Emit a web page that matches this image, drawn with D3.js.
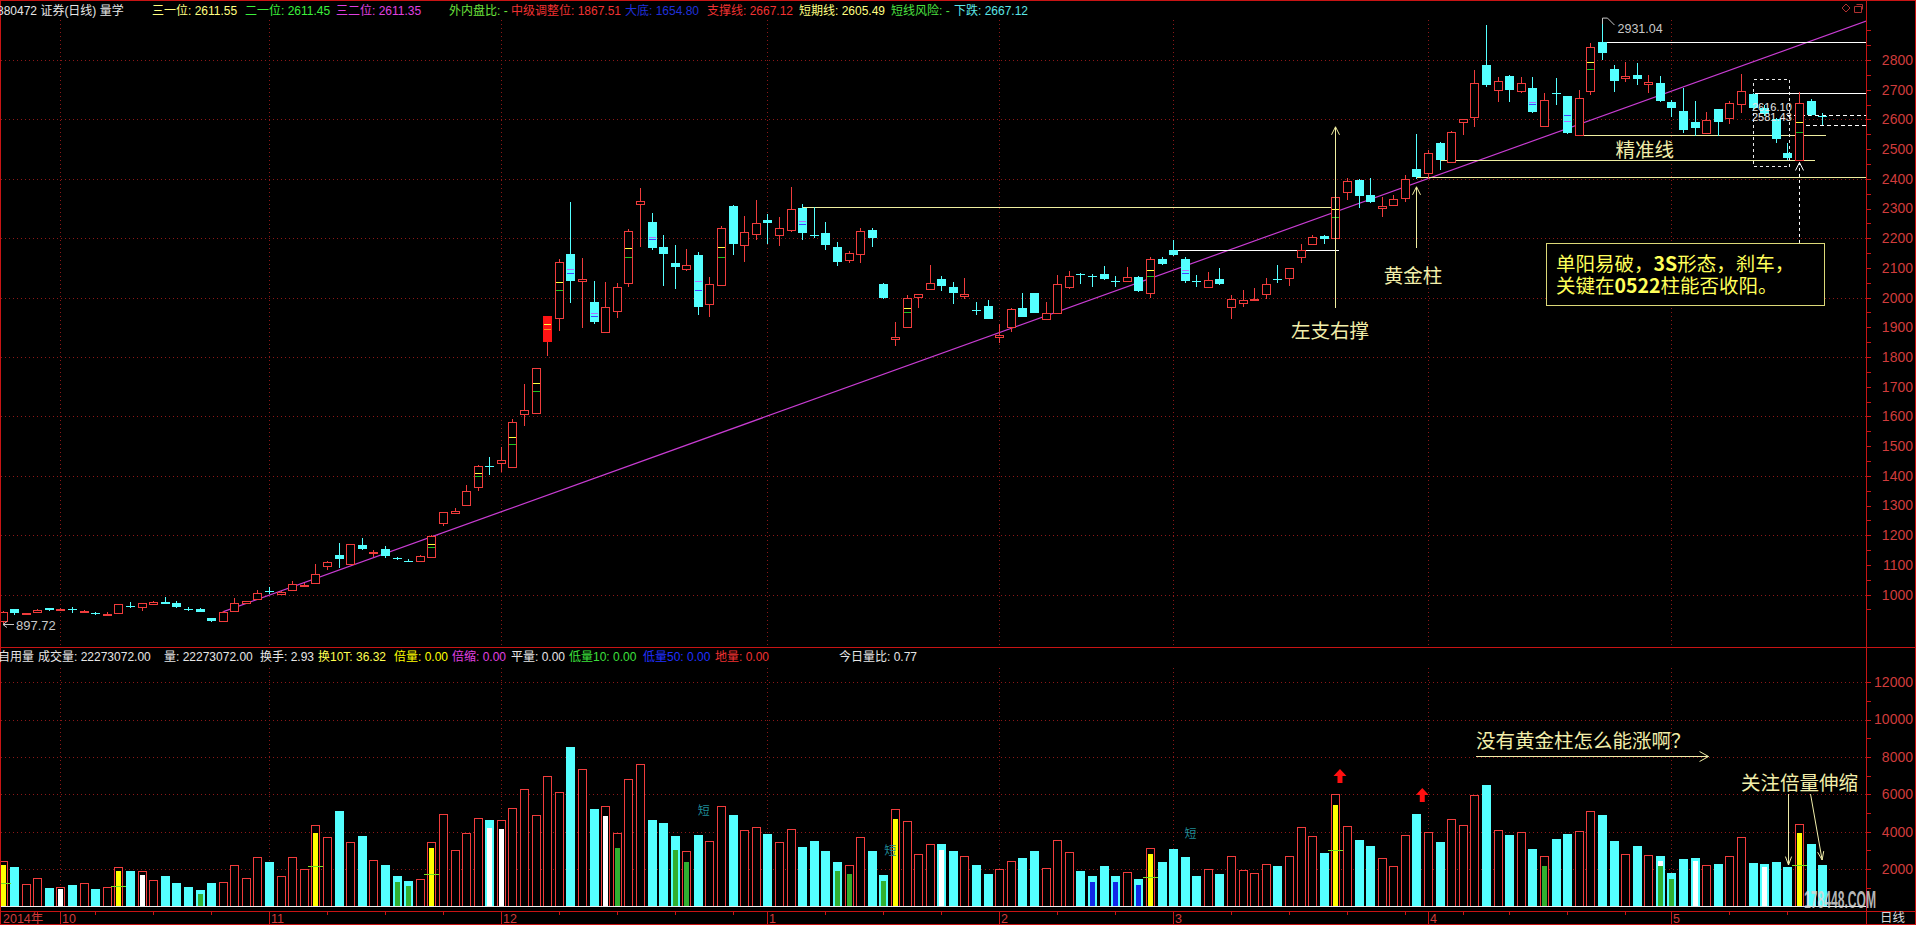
<!DOCTYPE html>
<html><head><meta charset="utf-8">
<script src="https://cdn.jsdelivr.net/npm/d3@7/dist/d3.min.js"></script>
<style>html,body{margin:0;padding:0;background:#000;overflow:hidden}svg{display:block}</style>
</head><body>
<svg id="chart" width="1916" height="925"></svg>
<script>
// ---------------- categories ----------------
const tradingMonths = [
  ["2014-09",[24,25,26,29,30]],
  ["2014-10",[8,9,10,13,14,15,16,17,20,21,22,23,24,27,28,29,30,31]],
  ["2014-11",[3,4,5,6,7,10,11,12,13,14,17,18,19,20,21,24,25,26,27,28]],
  ["2014-12",[1,2,3,4,5,8,9,10,11,12,15,16,17,18,19,22,23,24,25,26,29,30,31]],
  ["2015-01",[5,6,7,8,9,12,13,14,15,16,19,20,21,22,23,26,27,28,29,30]],
  ["2015-02",[2,3,4,5,6,9,10,11,12,13,16,17,25,26,27]],
  ["2015-03",[2,3,4,5,6,9,10,11,12,13,16,17,18,19,20,23,24,25,26,27,30,31]],
  ["2015-04",[1,2,3,7,8,9,10,13,14,15,16,17,20,21,22,23,24,27,28,29,30]],
  ["2015-05",[4,5,6,7,8,11,12,13,14,15,18,19,20,21]]
];
const dates = tradingMonths.flatMap(([m, ds]) => ds.map(d => `${m}-${String(d).padStart(2,"0")}`));
const monthLabels = [["2014-09-24","2014年"],["2014-10-08","10"],["2014-11-03","11"],["2014-12-01","12"],
  ["2015-01-05","1"],["2015-02-02","2"],["2015-03-02","3"],["2015-04-01","4"],["2015-05-04","5"]];

// ---------------- series ----------------
const open = [910,950,933,942,954,949,951,940,938,934, 937,963,957,968,976,971,952,952,920,912,
 946,971,984,1011,1002,1016,1030,1038,1097,1133, 1102,1167,1139,1153,1124,1114,1113,1128,1240,1274,
 1301,1363,1434,1444,1431,1607,1610,1855,1930,2146, 2055,1984,1885,1955,2050,2315,2255,2169,2115,2095,
 2143,1977,2042,2308,2178,2213,2261,2210,2228,2303, 2210,2216,2169,2127,2146,2228,2046,1861,1900,2001,
 2028,2063,2035,2005,1958,1972,1866,1902,1964,2014, 1927,1947,2037,2079,2072,2080,2055,2057,2070,2014,
 2130,2160,2130,2055,2037,2063,1970,1983,1993,2011, 2063,2067,2138,2180,2208,2200,2357,2396,2346,2303,
 2312,2336,2433,2418,2519,2455,2590,2607,2783,2699, 2747,2696,2707,2578,2689,2679,2547,2696,2859,2770,
 2738,2750,2718,2721,2657,2629,2590,2553,2634,2606, 2651,2684,2640,2603,2486,2463,2663,2613];
const high = [945,953,939,950,956,955,959,947,942,940, 970,976,973,977,991,977,958,954,922,944,
 987,979,1015,1027,1012,1047,1040,1103,1113,1173, 1171,1192,1150,1164,1127,1121,1132,1199,1279,1290,
 1370,1435,1464,1498,1590,1709,1764,1943,2129,2323, 2134,2057,2054,2050,2230,2368,2286,2211,2177,2162,
 2154,2068,2240,2313,2275,2327,2280,2273,2371,2314, 2306,2255,2186,2158,2233,2233,2048,1917,2009,2013,
 2110,2073,2054,2065,1984,1992,1910,1964,2014,2016, 1984,2076,2091,2082,2078,2106,2073,2104,2072,2136,
 2136,2194,2138,2076,2085,2099,2009,2026,2031,2065, 2110,2100,2179,2210,2211,2392,2402,2400,2404,2340,
 2345,2413,2550,2497,2525,2560,2600,2766,2918,2744, 2750,2744,2744,2688,2738,2680,2699,2856,2931.04,2783,
 2794,2789,2750,2746,2665,2707,2662,2624,2634,2662, 2752,2690,2648,2606,2519,2691,2668,2620];
const low = [897.72,932,930,940,946,945,939,937,932,932, 935,956,946,966,968,955,945,941,909,910,
 944,969,982,1003,1000,1012,1025,1036,1083,1091, 1100,1150,1125,1124,1116,1110,1111,1124,1230,1272,
 1299,1350,1403,1414,1428,1568,1608,1803,1889,1983, 1899,1912,1883,1930,2037,2171,2160,2039,2029,2090,
 1941,1934,2040,2143,2119,2194,2180,2174,2220,2194, 2200,2160,2108,2118,2118,2170,1996,1838,1898,1966,
 2026,2023,1977,1994,1941,1929,1848,1883,1934,1947, 1925,1945,2028,2046,2037,2060,2035,2055,2018,1998,
 2110,2140,2050,2035,2035,2044,1927,1967,1990,1994, 2048,2040,2115,2178,2180,2175,2329,2303,2320,2272,
 2308,2321,2401,2401,2430,2452,2547,2575,2710,2657, 2657,2690,2620,2575,2648,2550,2545,2682,2800,2693,
 2727,2716,2688,2660,2609,2553,2545,2550,2545,2583, 2620,2630,2612,2519,2463,2460,2610,2581];
const close = [942,937,937,948,948,951,949,945,936,936, 968,958,971,975,970,957,951,943,912,942,
 971,977,1004,1009,1010,1035,1033,1068,1111,1119, 1169,1153,1143,1131,1119,1112,1130,1197,1277,1283,
 1349,1433,1432,1453,1581,1622,1762,1941,2119,2057, 2063,1919,1968,2036,2224,2325,2168,2148,2104,2109,
 1970,2045,2233,2182,2221,2250,2252,2233,2297,2219, 2207,2178,2121,2149,2223,2202,1998,1868,1998,2011,
 2048,2040,2017,2011,1956,1929,1875,1961,1936,1949, 1949,2045,2073,2077,2070,2062,2053,2070,2022,2129,
 2113,2143,2057,2053,2059,2046,1994,1992,1995,2045, 2060,2098,2160,2205,2197,2340,2394,2343,2323,2310,
 2332,2398,2407,2488,2463,2556,2600,2721,2716,2729, 2699,2721,2626,2665,2687,2553,2673,2845,2822,2730,
 2746,2735,2725,2662,2637,2564,2572,2598,2592,2654, 2696,2637,2617,2533,2471,2654,2615,2609];
const volume = [2449,2110,1183,1504,1004,1040,1147,1236,933,1040, 2110,1896,1878,1415,1629,1254,1040,880,1254,1307,
 2217,1522,2645,2377,1629,2645,2003,4357,3715,5123, 3447,3768,2485,2217,1629,1361,1468,3447,4945,3019,
 3929,4731,4624,4624,5266,6282,4892,6978,6122,8547, 7352,5212,5373,3929,6817,7620,4624,4464,3768,2966,
 3822,3500,5373,4892,4089,4250,3875,3447,4143,3180, 3500,2966,2377,2217,3715,2966,1682,5212,4571,2805,
 3340,3340,2966,2698,2217,1735,2003,2431,2592,2966, 2056,3554,2912,1896,1629,2163,1629,1843,1468,3126,
 2377,3073,2645,1629,2003,1735,2698,1950,1789,2271, 2163,2698,4250,3768,2859,6015,4303,3554,3233,2592,
 2163,3822,4945,3982,3447,4678,4357,5961,6496,4089, 3822,3982,3073,2698,3607,3875,4036,5123,4892,3500,
 2805,3233,2752,2698,1789,2538,2592,2217,2271,2698, 3715,2324,2271,2377,2110,4410,3340,2217];
const solidRedBars = [47];
// indicator marks inside candles: [bar, price, kind]
const candleMarks = [[37,1172,"y"],[37,1161,"g"],[41,1408,"y"],[41,1399,"g"],[44,1530,"y"],[44,1506,"g"],
 [46,1711,"y"],[46,1687,"g"],[47,1910,"y"],[47,1895,"o"],[48,2054,"y"],[48,2024,"g"],[49,2095,"p"],[49,2084,"b"],
 [51,1947,"p"],[51,1939,"b"],[54,2166,"y"],[54,2137,"g"],[56,2205,"p"],[56,2197,"b"],[60,2056,"p"],[60,2026,"b"],
 [62,2169,"y"],[62,2138,"g"],[69,2259,"p"],[69,2248,"b"],[78,1964,"y"],[78,1950,"g"],[99,2093,"y"],[99,2072,"g"],
 [102,2093,"p"],[102,2084,"b"],[115,2300,"y"],[115,2270,"g"],[132,2660,"p"],[132,2651,"b"],[135,2615,"b"],[135,2595,"p"],
 [137,2794,"y"],[137,2770,"g"],[155,2590,"y"],[155,2556,"g"]];
// volume inner fills: [bar, value]
const volWhite = [[5,933],[12,1682],[42,4196],[43,4160],[52,4838],[81,3019],[143,2430],[146,2450],[152,2100]];
const volYellow = [[0,2217],[10,1896],[27,3947],[37,3126],[77,4678],[99,2805],[115,5426],[155,3929]];
const volGreen = [[17,684],[34,1307],[35,1094],[53,3144],[58,3019],[59,2377],[72,1896],[73,1735],[76,1361],[133,2163],[143,2163],[144,1468]];
const volBlue = [[94,1307],[96,1307],[98,1165]];
const volTickMarks = [[0,1236],[10,1094],[27,2163],[37,1735],[99,1575],[115,3019],[155,2217]];

// ---------------- axis ticks ----------------
const priceTicks = [1000,1100,1200,1300,1400,1500,1600,1700,1800,1900,2000,2100,2200,2300,2400,2500,2600,2700,2800];
const priceGrid = [1000,1200,1400,1600,1800,2000,2200,2400,2600,2800];
const volTicks = [2000,4000,6000,8000,10000,12000];

// ---------------- annotations (data units) ----------------
const trendLine = [[19,942],[160.8,2931]];
const levelLines = [ // [fromBar, toBar(null=edge), price, color, dashed]
 [69,115,2304,"#f0eea0",false],[101,115,2160,"#ffffff",false],
 [124,156,2462,"#f0eea0",false],[136,157,2547,"#f0eea0",false],[122,null,2407,"#f0eea0",false],
 [138,null,2860,"#ffffff",false],[151.2,null,2688,"#ffffff",false],
 [154,null,2616.10,"#ffffff",true],[155,null,2581.43,"#ffffff",true]];
const upArrows = [[115,1965,2575,"#f0eea0",false],[122,2167,2373,"#f0eea0",false],[155,2184,2455,"#ffffff",true]];
const priceTexts = [["左支右撑",114.54,1864],["黄金柱",121.7,2049],["精准线",141.7,2473]];
const noteBox = {x0:133.2, x1:157.2, p0:2184, p1:1975, tx:134.04,
  lines:[[["单阳易破，",0],["3S",1],["形态，刹车，",0]],[["关键在",0],["0522",1],["柱能否收阳。",0]]], base:[2091,2017]};
const dashBox = [151,154.1,2736,2443];
const volArrowsRed = [[115.4,7353],[122.5,6337]];
const shortLabels = [[60.5,5160],[76.6,3020],[102.5,3950]];
const volTexts = [["没有黄金柱怎么能涨啊？",127.14,8476],["关注倍量伸缩",150.0,6230]];
const volArrowLine = [[127.14,8048],[147.2,8048]];
const volPointers = [[[154.1,6016],[154.1,2219]],[[156.0,6016],[157.0,2487]]];

const headerItems = [[-3,"880472 证券(日线) 量学","#e6e6e6"],[152,"三一位: 2611.55","#ffff80"],[245,"二一位: 2611.45","#3cf03c"],
 [336,"三二位: 2611.35","#e040e0"],[449,"外内盘比: -","#6ce23c"],[511,"中级调整位: 1867.51","#f03232"],[625,"大底: 1654.80","#2030d8"],
 [707,"支撑线: 2667.12","#f03232"],[799,"短期线: 2605.49","#ffff80"],[891,"短线风险: -","#4ce040"],[954,"下跌: 2667.12","#5ce6e6"]];
const volHeaderItems = [[-2,"自用量","#e6e6e6"],[38,"成交量: 22273072.00","#e6e6e6"],[164,"量: 22273072.00","#e6e6e6"],
 [260,"换手: 2.93","#e6e6e6"],[318,"换10T: 36.32","#ffff50"],[394,"倍量: 0.00","#ffff00"],[452,"倍缩: 0.00","#e040e0"],
 [511,"平量: 0.00","#e6e6e6"],[569,"低量10: 0.00","#3ce03c"],[643,"低量50: 0.00","#2030ff"],[715,"地量: 0.00","#f03232"],
 [839,"今日量比: 0.77","#e6e6e6"]];

// ---------------- drawing ----------------
const W = 1916, H = 925, PR = 1866;
const RED = "#c81414", UP = "#f03c3c", DOWN = "#54ffff", AXC = "#d03c3c", GRID = "#8c1818";
const FS = '"Liberation Sans","Noto Sans CJK SC",sans-serif';
const CJK = '"Noto Sans CJK SC","Liberation Sans",sans-serif';
const N = dates.length;
const xI = d3.scaleLinear().domain([0, N - 1]).range([2.5, 2.5 + (N - 1) * 11.59]);
const yP = d3.scaleLinear().domain([1000, 2800]).range([594.6, 60]);
const yV = d3.scaleLinear().domain([0, 12000]).range([906.5, 682.1]);
const X = i => Math.round(xI(i));
const idx = d => dates.indexOf(d);
const markColor = {y:"#ffff40", g:"#20c020", p:"#b070ff", b:"#4040ff", o:"#ff9020"};

const svg = d3.select("#chart");
svg.append("rect").attr("width", W).attr("height", H).attr("fill", "#000");

const bars = dates.map((d, i) => ({i, d, o: open[i], h: high[i], l: low[i], c: close[i], v: volume[i]}));
const monthIdx = monthLabels.map(([d, t]) => [idx(d), t]);

// grids
const grid = svg.append("g").attr("stroke", GRID).attr("stroke-dasharray", "1,3").attr("shape-rendering", "crispEdges");
grid.selectAll(".hp").data(priceGrid).join("line").attr("x1", 1).attr("x2", PR)
  .attr("y1", d => Math.round(yP(d)) + 0.5).attr("y2", d => Math.round(yP(d)) + 0.5);
grid.selectAll(".hv").data(volTicks).join("line").attr("x1", 1).attr("x2", PR)
  .attr("y1", d => Math.round(yV(d)) + 0.5).attr("y2", d => Math.round(yV(d)) + 0.5);
grid.selectAll(".vp").data(monthIdx.slice(1)).join("line")
  .attr("x1", d => X(d[0]) + 0.5).attr("x2", d => X(d[0]) + 0.5).attr("y1", 20).attr("y2", 646);
grid.selectAll(".vv").data(monthIdx.slice(1)).join("line")
  .attr("x1", d => X(d[0]) + 0.5).attr("x2", d => X(d[0]) + 0.5).attr("y1", 668).attr("y2", 905);

// trend line (clipped to price panel)
svg.append("clipPath").attr("id", "pclip").append("rect").attr("x", 1).attr("y", 18).attr("width", PR - 1).attr("height", 628);
svg.append("line").attr("clip-path", "url(#pclip)")
  .attr("x1", xI(trendLine[0][0])).attr("y1", yP(trendLine[0][1]))
  .attr("x2", xI(trendLine[1][0])).attr("y2", yP(trendLine[1][1]))
  .attr("stroke", "#c83cd2").attr("stroke-width", 1.2);

// level lines
const lv = svg.append("g").attr("shape-rendering", "crispEdges");
lv.selectAll("line").data(levelLines).join("line")
  .attr("x1", d => X(d[0])).attr("x2", d => d[1] == null ? PR : X(d[1]) + 4)
  .attr("y1", d => Math.round(yP(d[2])) + 0.5).attr("y2", d => Math.round(yP(d[2])) + 0.5)
  .attr("stroke", d => d[3]).attr("stroke-dasharray", d => d[4] ? "4,3" : null);

// dashed box
svg.append("rect").attr("x", X(dashBox[0]) + 0.5).attr("y", Math.round(yP(dashBox[2])) + 0.5)
  .attr("width", X(dashBox[1]) - X(dashBox[0])).attr("height", Math.round(yP(dashBox[3]) - yP(dashBox[2])))
  .attr("fill", "none").attr("stroke", "#e8e8e8").attr("stroke-dasharray", "3,3").attr("shape-rendering", "crispEdges");

// candles
const cg = svg.append("g").attr("shape-rendering", "crispEdges");
const cs = cg.selectAll("g").data(bars).join("g");
cs.append("line").attr("x1", d => X(d.i) + 0.5).attr("x2", d => X(d.i) + 0.5)
  .attr("y1", d => yP(d.h)).attr("y2", d => yP(Math.max(d.o, d.c)))
  .attr("stroke", d => d.c >= d.o ? UP : DOWN);
cs.append("line").attr("x1", d => X(d.i) + 0.5).attr("x2", d => X(d.i) + 0.5)
  .attr("y1", d => yP(Math.min(d.o, d.c))).attr("y2", d => yP(d.l))
  .attr("stroke", d => d.c >= d.o ? UP : DOWN);
cs.append("rect")
  .attr("x", d => d.c >= d.o && !solidRedBars.includes(d.i) ? X(d.i) - 3.5 : X(d.i) - 4)
  .attr("y", d => { const t = Math.round(yP(Math.max(d.o, d.c))); return d.c >= d.o ? t + 0.5 : t; })
  .attr("width", d => d.c >= d.o && !solidRedBars.includes(d.i) ? 8 : 9)
  .attr("height", d => Math.max(1, Math.round(yP(Math.min(d.o, d.c))) - Math.round(yP(Math.max(d.o, d.c)))))
  .attr("fill", d => solidRedBars.includes(d.i) ? "#ff1414" : (d.c >= d.o ? "#000" : DOWN))
  .attr("stroke", d => (d.c >= d.o && !solidRedBars.includes(d.i)) ? UP : "none");
cg.selectAll(".mk").data(candleMarks).join("line")
  .attr("x1", d => X(d[0]) - 3).attr("x2", d => X(d[0]) + 4)
  .attr("y1", d => Math.round(yP(d[1])) + 0.5).attr("y2", d => Math.round(yP(d[1])) + 0.5)
  .attr("stroke", d => markColor[d[2]]).attr("stroke-width", 1.5);

// up arrows (price panel)
const ua = svg.append("g");
upArrows.forEach(([i, p0, p1, col, dash]) => {
  const x = X(i) + 0.5, y0 = yP(p0), y1 = yP(p1);
  ua.append("line").attr("x1", x).attr("x2", x).attr("y1", y0).attr("y2", y1)
    .attr("stroke", col).attr("stroke-dasharray", dash ? "3,3" : null);
  ua.append("path").attr("d", `M${x - 4},${y1 + 8}L${x},${y1}L${x + 4},${y1 + 8}`).attr("fill", "none").attr("stroke", col);
});

// annotation texts (price panel)
svg.selectAll(".pt").data(priceTexts).join("text")
  .attr("x", d => xI(d[1])).attr("y", d => yP(d[2])).attr("text-anchor", "middle")
  .attr("font-family", CJK).attr("font-size", 19.5).attr("fill", "#f2eeaa").text(d => d[0]);

// note box
svg.append("rect").attr("x", Math.round(xI(noteBox.x0)) + 0.5).attr("y", Math.round(yP(noteBox.p0)) + 0.5)
  .attr("width", Math.round(xI(noteBox.x1) - xI(noteBox.x0))).attr("height", Math.round(yP(noteBox.p1) - yP(noteBox.p0)))
  .attr("fill", "#000").attr("stroke", "#dcd878").attr("shape-rendering", "crispEdges");
noteBox.lines.forEach((parts, k) => {
  const t = svg.append("text").attr("x", xI(noteBox.tx)).attr("y", yP(noteBox.base[k]))
    .attr("font-family", CJK).attr("font-size", 19.5).attr("fill", "#ffff5a");
  parts.forEach(([s, b]) => t.append("tspan").attr("font-weight", b ? "bold" : null).text(s));
});

// price extreme labels
{
  const i = high.indexOf(d3.max(high)), x = X(i) + 0.5, y = yP(high[i]);
  svg.append("path").attr("d", `M${x},${y + 3}L${x},${y - 3}L${x + 5},${y - 3}L${x + 12},${y + 4}`).attr("fill", "none").attr("stroke", "#c8c8c8");
  svg.append("text").attr("x", x + 15).attr("y", y + 12).attr("font-family", FS).attr("font-size", 12.5)
    .attr("fill", "#c8c8c8").text(d3.format(".2f")(high[i]));
  const j = low.indexOf(d3.min(low)), yl = Math.round(yP(low[j])) - 0.5;
  svg.append("path").attr("d", `M3,${yl}L14,${yl}M3,${yl}L7,${yl - 3}M3,${yl}L7,${yl + 3}`).attr("fill", "none").attr("stroke", "#c8c8c8");
  svg.append("text").attr("x", 16).attr("y", yl + 5).attr("font-family", FS).attr("font-size", 13)
    .attr("fill", "#c8c8c8").text(d3.format(".2f")(low[j]));
}
// dashed level value labels
svg.selectAll(".dl").data(levelLines.filter(d => d[4])).join("text")
  .attr("x", X(151) - 1).attr("y", d => yP(d[2]) - 4).attr("font-family", FS).attr("font-size", 11)
  .attr("fill", "#e8e8e8").text(d => d3.format(".2f")(d[2]));

// volume bars
const vg = svg.append("g").attr("shape-rendering", "crispEdges");
vg.selectAll(".vb").data(bars).join("rect")
  .attr("x", d => d.c >= d.o ? X(d.i) - 3.5 : X(d.i) - 4)
  .attr("y", d => Math.round(yV(d.v)) + (d.c >= d.o ? 0.5 : 0))
  .attr("width", d => d.c >= d.o ? 8 : 9)
  .attr("height", d => 906 - Math.round(yV(d.v)) - (d.c >= d.o ? 0.5 : 0))
  .attr("fill", d => d.c >= d.o ? "#000" : DOWN)
  .attr("stroke", d => d.c >= d.o ? UP : "none");
[[volWhite, "#ffffff"], [volYellow, "#ffff00"], [volGreen, "#30b030"], [volBlue, "#1028e8"]].forEach(([arr, col]) => {
  vg.append("g").selectAll("rect").data(arr).join("rect")
    .attr("x", d => X(d[0]) - 2).attr("y", d => Math.round(yV(d[1])))
    .attr("width", 5).attr("height", d => 906 - Math.round(yV(d[1]))).attr("fill", col);
});
vg.selectAll(".vt").data(volTickMarks).join("line")
  .attr("x1", d => X(d[0]) - 7).attr("x2", d => X(d[0]) + 8)
  .attr("y1", d => Math.round(yV(d[1])) + 0.5).attr("y2", d => Math.round(yV(d[1])) + 0.5)
  .attr("stroke", "#78e020").attr("stroke-width", 1.5);

// volume annotations
svg.selectAll(".ra").data(volArrowsRed).join("path")
  .attr("d", d => { const x = xI(d[0]), y = yV(d[1]); return `M${x},${y}L${x + 6.5},${y + 7}L${x + 2.5},${y + 7}L${x + 2.5},${y + 14}L${x - 2.5},${y + 14}L${x - 2.5},${y + 7}L${x - 6.5},${y + 7}Z`; })
  .attr("fill", "#ff1010");
svg.selectAll(".sl").data(shortLabels).join("text")
  .attr("x", d => xI(d[0])).attr("y", d => yV(d[1]) + 5).attr("text-anchor", "middle")
  .attr("font-family", CJK).attr("font-size", 12).attr("fill", "#1f8a96").text("短");
svg.selectAll(".vtx").data(volTexts).join("text")
  .attr("x", d => xI(d[1])).attr("y", d => yV(d[2])).attr("font-family", CJK).attr("font-size", 19.5)
  .attr("fill", "#f2eeaa").text(d => d[0]);
{
  const [a, b] = volArrowLine, x0 = xI(a[0]), x1 = xI(b[0]), y = Math.round(yV(a[1])) + 0.5;
  svg.append("path").attr("d", `M${x0},${y}L${x1},${y}M${x1 - 9},${y - 5}L${x1},${y}L${x1 - 9},${y + 5}`)
    .attr("fill", "none").attr("stroke", "#f2eeaa");
  volPointers.forEach(([p, q]) => {
    const xa = xI(p[0]), ya = yV(p[1]), xb = xI(q[0]), yb = yV(q[1]);
    const ang = Math.atan2(yb - ya, xb - xa), L = 9, s = 0.35;
    svg.append("path").attr("d", `M${xa},${ya}L${xb},${yb}M${xb - L * Math.cos(ang - s)},${yb - L * Math.sin(ang - s)}L${xb},${yb}L${xb - L * Math.cos(ang + s)},${yb - L * Math.sin(ang + s)}`)
      .attr("fill", "none").attr("stroke", "#f2eeaa");
  });
}

// axes (right)
const axP = svg.append("g").attr("transform", `translate(${PR},0)`)
  .call(d3.axisRight(yP).tickValues(priceTicks).tickSize(0).tickPadding(0).tickFormat(d3.format("d")));
axP.select(".domain").remove();
axP.selectAll("text").attr("x", 47).attr("text-anchor", "end").attr("fill", AXC);
axP.attr("font-family", FS).attr("font-size", 14);
const minorP = d3.range(950, 2901, 50);
svg.append("g").attr("shape-rendering", "crispEdges").selectAll("line").data(minorP).join("line")
  .attr("x1", PR).attr("x2", PR + 5).attr("y1", d => Math.round(yP(d)) + 0.5).attr("y2", d => Math.round(yP(d)) + 0.5).attr("stroke", RED);

const axV = svg.append("g").attr("transform", `translate(${PR},0)`)
  .call(d3.axisRight(yV).tickValues(volTicks).tickSize(0).tickPadding(0).tickFormat(d3.format("d")));
axV.select(".domain").remove();
axV.selectAll("text").attr("x", 47).attr("text-anchor", "end").attr("fill", AXC);
axV.attr("font-family", FS).attr("font-size", 14);
svg.append("g").attr("shape-rendering", "crispEdges").selectAll("line").data(d3.range(1000, 13000, 1000)).join("line")
  .attr("x1", PR).attr("x2", PR + 5).attr("y1", d => Math.round(yV(d)) + 0.5).attr("y2", d => Math.round(yV(d)) + 0.5).attr("stroke", RED);

// date axis
const weekStarts = dates.map((d, i) => i).filter(i => i > 0 && new Date(dates[i]).getUTCDay() < new Date(dates[i - 1]).getUTCDay());
svg.append("g").attr("shape-rendering", "crispEdges").selectAll("line").data(weekStarts).join("line")
  .attr("x1", d => X(d) + 0.5).attr("x2", d => X(d) + 0.5).attr("y1", 912).attr("y2", 915).attr("stroke", RED);
svg.append("g").attr("shape-rendering", "crispEdges").selectAll("line").data(monthIdx.slice(1)).join("line")
  .attr("x1", d => X(d[0]) + 0.5).attr("x2", d => X(d[0]) + 0.5).attr("y1", 912).attr("y2", 924).attr("stroke", RED);
svg.selectAll(".ml").data(monthIdx).join("text")
  .attr("x", (d, k) => k === 0 ? 3 : X(d[0]) + 2).attr("y", 922.5).attr("font-family", FS).attr("font-size", 12.5)
  .attr("fill", AXC).text(d => d[1]);

// frames
const fr = svg.append("g").attr("stroke", RED).attr("shape-rendering", "crispEdges");
[[0, 0.5, W, 0.5], [0, 647.5, W, 647.5], [0, 911.5, W, 911.5], [0, 924.5, W, 924.5],
 [0.5, 0, 0.5, H], [PR + 0.5, 0, PR + 0.5, H], [W - 0.5, 0, W - 0.5, H]].forEach(([a, b, c, d]) =>
  fr.append("line").attr("x1", a).attr("y1", b).attr("x2", c).attr("y2", d));
svg.append("line").attr("x1", 1).attr("x2", PR).attr("y1", 906.5).attr("y2", 906.5).attr("stroke", "#f0f0f0").attr("shape-rendering", "crispEdges");

// header rows
svg.selectAll(".hd").data(headerItems).join("text").attr("x", d => d[0]).attr("y", 15)
  .attr("font-family", FS).attr("font-size", 12).attr("fill", d => d[2]).text(d => d[1]);
svg.selectAll(".vh").data(volHeaderItems).join("text").attr("x", d => d[0]).attr("y", 661)
  .attr("font-family", FS).attr("font-size", 12).attr("fill", d => d[2]).text(d => d[1]);

// corner icons
svg.append("path").attr("d", "M1846,4L1850,8L1846,12L1842,8Z").attr("fill", "none").attr("stroke", "#b03030");
svg.append("path").attr("d", "M1854.5,6.5h7v6h-7zM1856.5,4.5h6v5").attr("fill", "none").attr("stroke", "#b03030");

// bottom-right
svg.append("text").attr("x", 1880).attr("y", 922).attr("font-family", CJK).attr("font-size", 12.5).attr("fill", "#d8d8d8").text("日线");
svg.append("text").attr("x", 1804).attr("y", 908).attr("font-family", FS).attr("font-weight", "bold").attr("font-size", 24)
  .attr("textLength", 72).attr("lengthAdjust", "spacingAndGlyphs").attr("fill", "rgba(215,215,215,0.85)").text("178448.COM");
</script>
</body></html>
